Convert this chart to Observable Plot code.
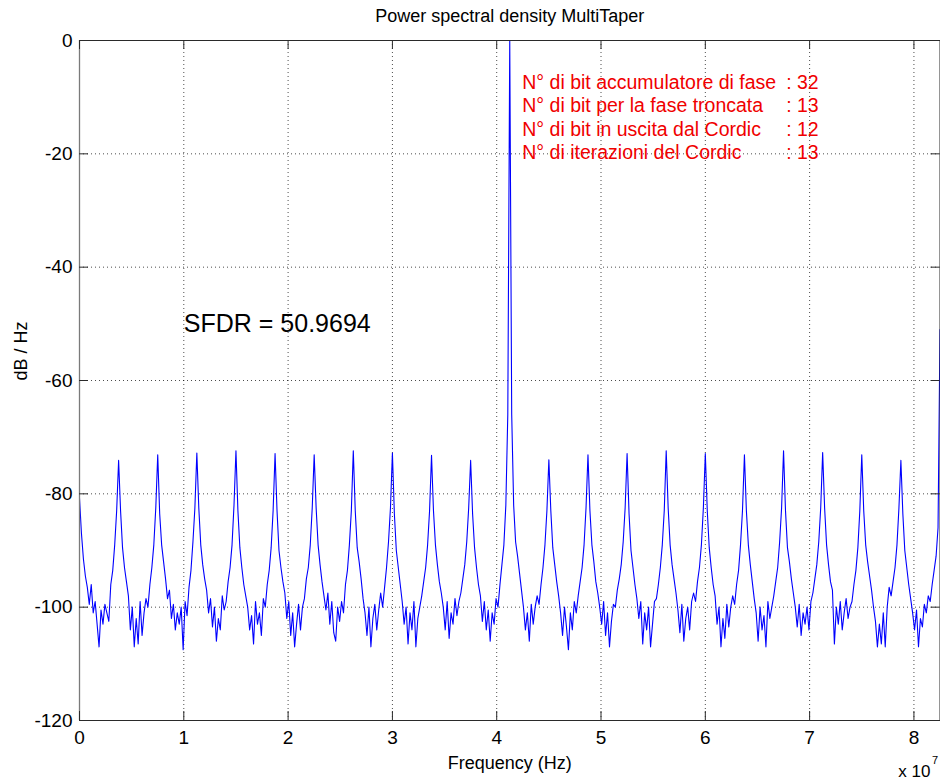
<!DOCTYPE html>
<html><head><meta charset="utf-8">
<script src="https://cdn.jsdelivr.net/npm/d3@7"></script>
<script src="https://cdn.jsdelivr.net/npm/@observablehq/plot@0.6"></script>
<style>
html,body{margin:0;padding:0;background:#fff;}
#chart svg{display:block;}
</style></head><body><div id="chart"></div>
<script>
// Frequency grid spacing of the PSD samples (Hz)
const binWidthHz = 1.875e5;
// PSD values (dB/Hz), one per frequency bin
const psdDb = [
-80.8, -87, -91.5, -94.5, -96.5, -99.5, -96, -101, -99, -103, -107, -100.5, -103, -99.5, -101, -102.5, -96, -93.5, -89, -83,
-74.1, -83, -89.5, -93, -95.5, -98, -104, -100, -107, -102, -106.5, -99, -105, -101, -98.5, -100, -96, -93, -89, -82.5,
-73.1, -83.5, -89, -92, -95, -98.5, -97, -102, -99.5, -104, -101, -103, -100, -107.5, -99, -101.5, -96.5, -93.5, -88.5, -82.5,
-72.8, -82.5, -89, -92.5, -95, -97, -101, -98.5, -103.5, -100, -106, -102, -104, -98, -100.5, -99, -95.5, -93, -89, -82,
-72.4, -83, -89.5, -93, -96, -98, -100, -104, -101.5, -106.5, -99, -103, -101, -105, -98.5, -100, -96, -93.5, -89.5, -83,
-72.9, -83, -90, -93, -95.5, -97.5, -102, -99, -105, -101, -107, -103, -99.5, -104, -100, -98.5, -95, -93, -89, -82.5,
-73.1, -82.5, -89, -92.5, -95.5, -98, -100.5, -97.5, -103, -99, -104.5, -106, -100, -102.5, -99, -101, -96, -93.5, -89, -83,
-72.4, -83, -89.5, -92, -95, -98.5, -101, -105, -100, -107, -102, -99.5, -104, -100.5, -97.5, -100, -96.5, -93, -88.5, -82.5,
-72.8, -83.5, -90, -93, -96, -99, -103, -100, -106.5, -101, -104, -99, -107, -102, -100, -98, -95.5, -93, -89, -83,
-73.2, -83, -89, -92.5, -95.5, -97.5, -100, -104, -99, -105.5, -101, -103, -98.5, -101.5, -99, -97.5, -95, -92.5, -88.5, -82.5,
-74.1, -83.5, -89.5, -93, -96, -98, -102.5, -99, -104, -100.5, -106, -101, -103, -98.5, -100, -96, -92.5, -89, -82, -66,
0, -66, -82, -88.5, -91, -94, -97, -100, -104, -101, -106, -99.5, -103, -100, -98, -99.5, -96, -93, -89, -83,
-74, -83, -89.5, -92.5, -95.5, -98, -101, -105, -100, -103.5, -107.5, -101, -104, -99, -101, -98, -95.5, -93, -89, -82.5,
-73.1, -83, -89, -92, -95.5, -97.5, -100, -103, -99, -105, -101, -107, -102.5, -99.5, -100, -97, -95, -92.5, -88.5, -82.5,
-72.9, -83.5, -90, -93, -96, -98.5, -102, -99, -106.5, -101, -104, -100, -107, -103, -99, -98.5, -96, -93, -89, -83,
-72.4, -82.5, -89, -92.5, -95, -97.5, -100.5, -104.5, -99.5, -106, -102, -100, -104, -99, -97.5, -99, -95.5, -93, -89, -82.5,
-72.9, -83, -89.5, -93, -96, -98, -103, -100, -107, -102, -105.5, -99.5, -103.5, -100, -98, -99.5, -96, -93.5, -89, -83,
-73.1, -83, -89, -92.5, -95.5, -98.5, -101, -106, -100, -104, -101.5, -107, -99, -102, -100, -98, -95.5, -93, -88.5, -82.5,
-72.4, -83, -89.5, -92, -95, -97.5, -100, -103.5, -99.5, -105, -101, -103, -100, -104, -99, -97.5, -95, -92.5, -88.5, -82.5,
-72.7, -82.5, -89, -92.5, -95.5, -97, -106.5, -100, -103, -99, -104, -101, -98.5, -102, -100, -99, -96, -93.5, -89.5, -83,
-73.1, -83, -89, -92, -94.5, -97, -100, -102.5, -107, -103, -106.5, -101, -107, -100, -96.5, -98, -95.5, -93, -89, -82.5,
-74.1, -83.5, -90, -93, -96, -98.5, -101, -104, -100.5, -107, -102, -103.5, -99.5, -101, -98, -99, -96, -93.5, -91, -86,
-51
];
// Axis ticks (x in units of 1e7 Hz)
const xTickValues = [0, 1, 2, 3, 4, 5, 6, 7, 8];
const yTickValues = [-120, -100, -80, -60, -40, -20, 0];
// Texts
const titleText = "Power spectral density MultiTaper";
const xLabel = "Frequency (Hz)";
const yLabel = "dB / Hz";
const xExponentBase = "x 10";
const xExponent = "7";
const sfdrLabel = "SFDR = 50.9694";
const paramNames = [
  "N° di bit accumulatore di fase",
  "N° di bit per la fase troncata",
  "N° di bit in uscita dal Cordic",
  "N° di iterazioni del Cordic"
];
const paramValues = [": 32", ": 13", ": 12", ": 13"];

const psd = psdDb.map((db, i) => ({f: i * binWidthHz, db}));
const xTicksHz = xTickValues.map(v => v * 1e7);
const axisColor = "#2a2a2a";
const gridStyle = {stroke: "#000", strokeOpacity: 0.7, strokeDasharray: "1,3"};

const chart = Plot.plot({
  width: 940,
  height: 783,
  marginLeft: 79,
  marginRight: 0.5,
  marginTop: 40,
  marginBottom: 63,
  style: {fontFamily: "'Liberation Sans', Arial, sans-serif", fontSize: "18px", color: "#000", background: "#fff", overflow: "visible"},
  x: {domain: [0, 8.25e7]},
  y: {domain: [-120, 0]},
  marks: [
    Plot.gridX(xTicksHz.filter(v => v > 0), gridStyle),
    Plot.gridY(yTickValues.filter(v => v > -120 && v < 0), gridStyle),
    Plot.line(psd, {x: "f", y: "db", stroke: "#0000ff", strokeWidth: 1.1}),
    Plot.frame({stroke: axisColor}),
    Plot.ruleX([0], {stroke: "#7a7a7a", strokeWidth: 1.3}),
    Plot.tickX(xTicksHz, {x: d => d, insetTop: 671, stroke: axisColor}),
    Plot.tickX(xTicksHz, {x: d => d, insetBottom: 671, stroke: axisColor}),
    Plot.tickY(yTickValues, {y: d => d, insetRight: 851.5, stroke: axisColor}),
    Plot.tickY(yTickValues, {y: d => d, insetLeft: 851.5, stroke: axisColor}),
    Plot.axisX(xTicksHz, {tickSize: 0, tickPadding: 10, tickFormat: d => String(d / 1e7), label: null, fontSize: 19}),
    Plot.axisY(yTickValues, {tickSize: 0, tickPadding: 7, tickFormat: d => String(d), label: null, fontSize: 19}),
    Plot.text([titleText], {frameAnchor: "top", dy: -24, lineAnchor: "middle", fontSize: 18}),
    Plot.text([xLabel], {frameAnchor: "bottom", dy: 42.6, lineAnchor: "middle", fontSize: 18}),
    Plot.text([yLabel], {frameAnchor: "left", dx: -58, rotate: -90, lineAnchor: "middle", fontSize: 18}),
    Plot.text([xExponentBase], {frameAnchor: "bottom-right", dx: -9.5, dy: 51, textAnchor: "end", lineAnchor: "middle", fontSize: 17}),
    Plot.text([xExponent], {frameAnchor: "bottom-right", dx: -8, dy: 40, textAnchor: "start", lineAnchor: "middle", fontSize: 11}),
    Plot.text([sfdrLabel], {x: 1.0e7, y: -50, textAnchor: "start", lineAnchor: "middle", fontSize: 25}),
    Plot.text([paramNames.join("\n")], {x: 4.245e7, y: -5.6, textAnchor: "start", lineAnchor: "top", lineHeight: 1.2, fontSize: 19.5, fill: "#f00000"}),
    Plot.text([paramValues.join("\n")], {x: 6.775e7, y: -5.6, textAnchor: "start", lineAnchor: "top", lineHeight: 1.2, fontSize: 19.5, fill: "#f00000"})
  ]
});
document.getElementById("chart").appendChild(chart);
</script>
</body></html>
